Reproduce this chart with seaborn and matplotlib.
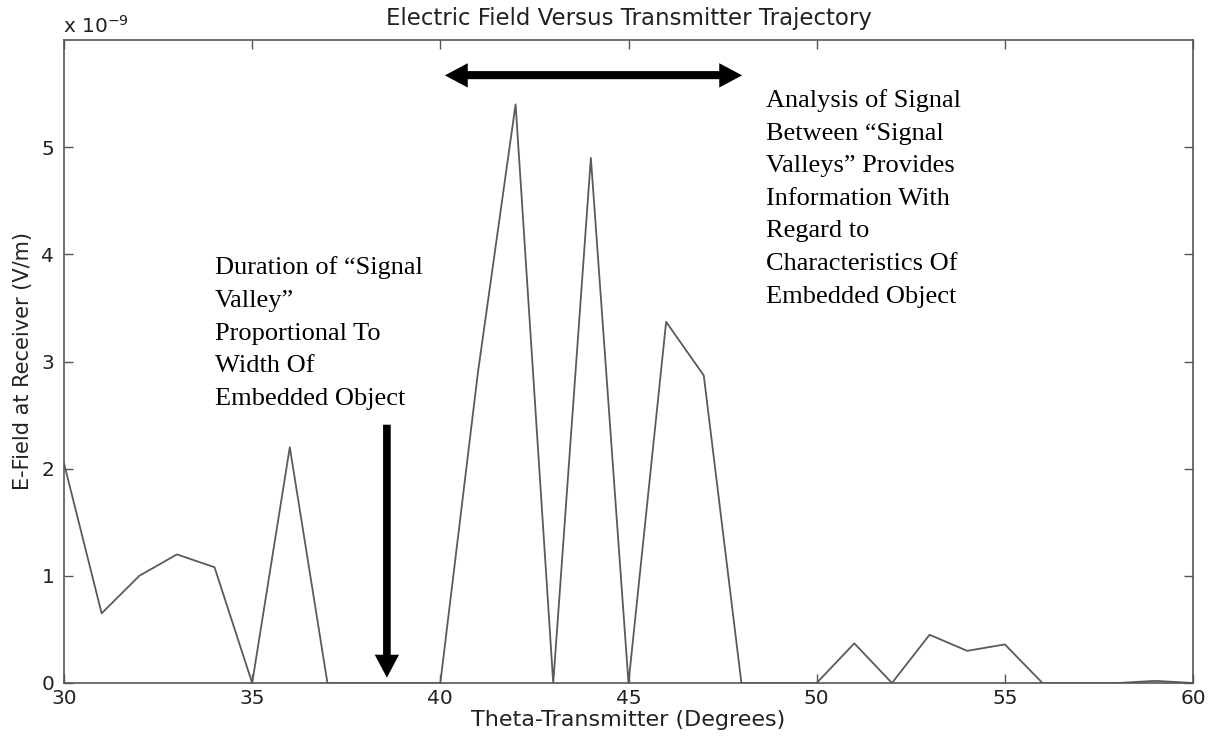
import matplotlib
matplotlib.use("Agg")
import matplotlib.pyplot as plt
from matplotlib.patches import FancyArrowPatch
import seaborn as sns
import pandas as pd

theta = list(range(30, 61))
efield = [2.05, 0.65, 1.0, 1.2, 1.08, 0.0, 2.2, 0.0, 0.0, 0.0,
          0.0, 2.9, 5.4, 0.0, 4.9, 0.0, 3.37, 2.87, 0.0, 0.0,
          0.0, 0.37, 0.0, 0.45, 0.3, 0.36, 0.0, 0.0, 0.0, 0.02, 0.0]
xticks = [30, 35, 40, 45, 50, 55, 60]
yticks = [0, 1, 2, 3, 4, 5]

title = "Electric Field Versus Transmitter Trajectory"
xlabel = "Theta-Transmitter (Degrees)"
ylabel = "E-Field at Receiver (V/m)"
note_left = "Duration of \u201cSignal\nValley\u201d\nProportional To\nWidth Of\nEmbedded Object"
note_right = ("Analysis of Signal\nBetween \u201cSignal\nValleys\u201d Provides\n"
              "Information With\nRegard to\nCharacteristics Of\nEmbedded Object")

sns.set_theme(style="white")
plt.rcParams['font.family'] = ['DejaVu Sans']

df = pd.DataFrame({"theta": theta, "efield": efield})

fig = plt.figure(figsize=(12.16, 7.38), dpi=100)
ax = fig.add_axes([64/1216, 1-683/738, (1193-64)/1216, (683-40)/738])
sns.lineplot(data=df, x="theta", y="efield", ax=ax, color="#5a5a5a", linewidth=1.3)

ax.set_xlim(30, 60)
ax.set_ylim(0, 6)
ax.set_xticks(xticks)
ax.set_yticks(yticks)
ax.tick_params(axis="both", direction="in", length=6.5, width=1, colors="#555555",
               labelcolor="#222222", labelsize=14.5, top=True, right=True,
               bottom=True, left=True, pad=4)
ax.tick_params(axis="y", pad=7)
for s in ax.spines.values():
    s.set_color("#555555")
    s.set_linewidth(1.2)
ax.set_title(title, fontsize=16.5, color="#222222", pad=10.5)
ax.set_xlabel(xlabel, fontsize=16, color="#222222", labelpad=2)
ax.set_ylabel(ylabel, fontsize=15, color="#222222", labelpad=6)
ax.text(-0.001, 1.011, "x 10$^{-9}$", transform=ax.transAxes, fontsize=14.5,
        color="#222222", ha="left", va="baseline")

serif = ['Liberation Serif', 'DejaVu Serif']
ax.text(34.01, 3.98, note_left, family=serif, fontsize=19, color="black",
        ha="left", va="top", linespacing=1.62)
ax.text(48.66, 5.54, note_right, family=serif, fontsize=19, color="black",
        ha="left", va="top", linespacing=1.62)

style = "simple,head_length=16.5,head_width=17.5,tail_width=5.5"
ax.add_patch(FancyArrowPatch((38.58, 2.41), (38.58, 0.05), arrowstyle=style,
                             mutation_scale=1, color="black", lw=0,
                             shrinkA=0, shrinkB=0))
left_tip, right_tip, arrow_y = 40.12, 48.02, 5.67
mid = (left_tip + right_tip) / 2
for end in (left_tip, right_tip):
    ax.add_patch(FancyArrowPatch((mid, arrow_y), (end, arrow_y), arrowstyle=style,
                                 mutation_scale=1, color="black", lw=0,
                                 shrinkA=0, shrinkB=0))
ax.plot([left_tip + 0.3, right_tip - 0.3], [arrow_y, arrow_y], color="black",
        lw=5.5, solid_capstyle="butt")

fig.savefig("out.png", dpi=100, facecolor="white")
